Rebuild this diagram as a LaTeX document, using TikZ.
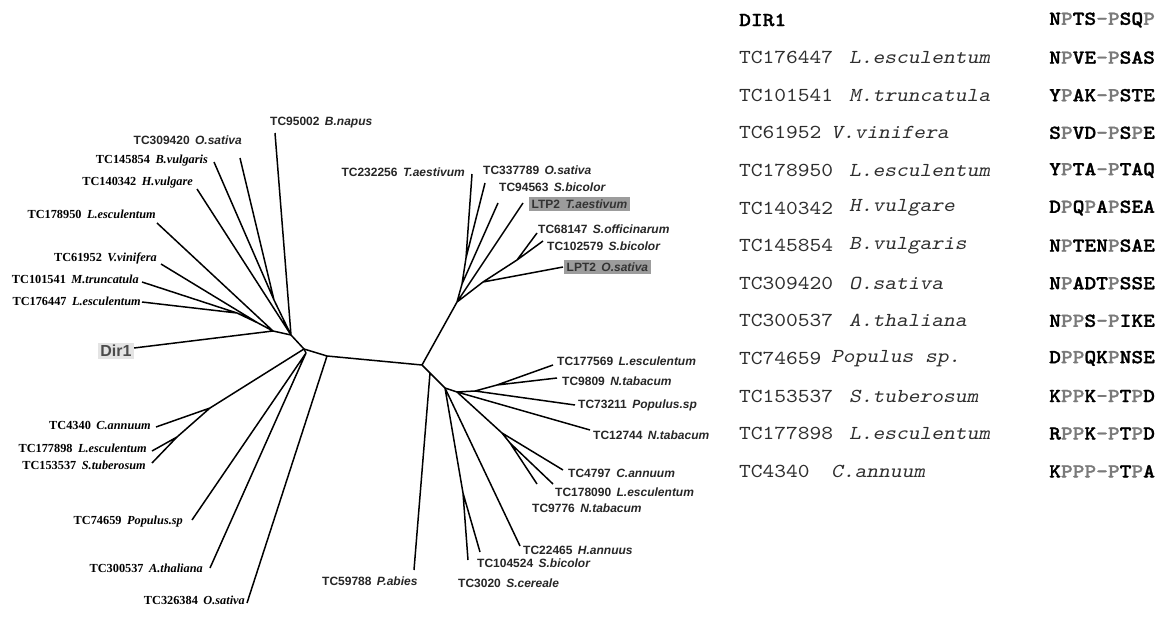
\documentclass[tikz,border=0pt]{standalone}
\usepackage{fontspec}
\setmainfont{Liberation Serif}
\setsansfont{Liberation Sans}
\newfontfamily\seqfont[FakeStretch=1.13,BoldFont=lmmonolt10-bold.otf,BoldFeatures={FakeBold=1.3},
  ItalicFont=lmmono10-regular.otf,ItalicFeatures={FakeSlant=0.21}]{lmmono10-regular.otf}
\usetikzlibrary{positioning}
\definecolor{hlgrey}{HTML}{9C9C9C}
\definecolor{dirgrey}{HTML}{E4E4E4}
\definecolor{resgrey}{HTML}{7A7A7A}
\definecolor{idgrey}{HTML}{2E2E2E}
\tikzset{branch/.style={line width=1.5pt,line join=round},
 serlab/.style={font=\fontsize{12.3}{14}\selectfont\bfseries,inner sep=1pt},
 sanlab/.style={font=\sffamily\bfseries\fontsize{12}{13}\selectfont,inner sep=1pt,text=black!85},
 hilab/.style={sanlab,fill=hlgrey,inner sep=2.5pt,text=black!80},
 dirlab/.style={font=\sffamily\bfseries\fontsize{16}{17}\selectfont,fill=dirgrey,text=black!70,inner sep=2.5pt},
 idcell/.style={font=\seqfont\fontsize{19.8}{22}\selectfont,text=idgrey,anchor=west,inner sep=0pt},
 spcell/.style={idcell,font=\seqfont\itshape\fontsize{19.8}{22}\selectfont},
 seqcell/.style={idcell,font=\seqfont\bfseries\fontsize{19.8}{22}\selectfont,text=black}}
\newcommand{\taxon}[2]{#1\hspace{.45em}\textit{#2}}
\newcommand{\gr}[1]{\textcolor{resgrey}{#1}}

\begin{document}
\begin{tikzpicture}[x=1pt,y=-1pt]
\useasboundingbox (0,0) rectangle (1162,618);
% leaf ends
\coordinate (l95002) at (275,133);\coordinate (l309420) at (240,158);\coordinate (l145854) at (214,162);
\coordinate (l140342) at (197,189);\coordinate (l178950) at (157,223);\coordinate (l61952) at (161,264);
\coordinate (l101541) at (142,282);\coordinate (l176447) at (142,302);\coordinate (ldir) at (134,348);
\coordinate (l4340) at (156,427);\coordinate (l177898) at (152,451);\coordinate (l153537) at (152,463);
\coordinate (l74659) at (192,520);\coordinate (l300537) at (210,568);\coordinate (l326384) at (247,603);
\coordinate (l59788) at (414,570);\coordinate (l3020) at (468,560);\coordinate (l104524) at (480,552);
\coordinate (l22465) at (520,546);\coordinate (l9776) at (537,484);\coordinate (l178090) at (553,484);
\coordinate (l4797) at (563,470);\coordinate (l12744) at (590,430);\coordinate (l73211) at (575,405);
\coordinate (l9809) at (557,378);\coordinate (l177569) at (553,365);\coordinate (lLPT2) at (563,267);
\coordinate (l102579) at (543,241);\coordinate (l68147) at (537,233);\coordinate (lLTP2) at (523,203);
\coordinate (l94563) at (498,203);\coordinate (l337789) at (485,183);\coordinate (l232256) at (472,174);
% inner nodes
\coordinate (nL) at (291,335);\coordinate (nC) at (304,349);\coordinate (c2) at (327,356);
\coordinate (nR) at (422,365);\coordinate (pab) at (430,373);\coordinate (r1) at (445,388);
\coordinate (r2) at (457,392);\coordinate (r3) at (475,391);\coordinate (r4) at (497,385);
\coordinate (s1) at (463,493);\coordinate (s2) at (502,433);\coordinate (s3) at (510,443);
\coordinate (u1) at (457,302);\coordinate (u2) at (462,284);\coordinate (u3) at (466,258);
\coordinate (u4) at (483,282);\coordinate (u5) at (517,260);
\coordinate (t1) at (210,408);\coordinate (t2) at (177,437);\coordinate (t3) at (306,353);
\coordinate (a2) at (274,300);\coordinate (b1) at (273,331);\coordinate (b2) at (258,323);\coordinate (b3) at (237,313);
% branches
\draw[branch] (l95002) -- (nL) (l140342) -- (nL) (l309420) -- (a2) (l145854) -- (a2) -- (nL);
\draw[branch] (ldir) -- (b1) -- (nL) (l178950) -- (b1) (l61952) -- (b2) (l101541) -- (b3) (l176447) -- (b3) -- (b2) -- (b1);
\draw[branch] (nL) -- (nC) -- (c2) -- (nR) (c2) -- (l326384);
\draw[branch] (nC) -- (t1) -- (l4340) (t1) -- (t2) -- (l177898) (t2) -- (l153537);
\draw[branch] (nC) -- (t3) -- (l74659) (t3) -- (l300537);
\draw[branch] (nR) -- (u1) -- (u2) -- (u3) -- (l232256) (u3) -- (l337789) (u2) -- (l94563) (u1) -- (lLTP2)
  (u1) -- (u4) -- (lLPT2) (u4) -- (u5) -- (l68147) (u5) -- (l102579);
\draw[branch] (nR) -- (pab) -- (r1) -- (r2) -- (r3) -- (r4) -- (l177569) (r4) -- (l9809) (r3) -- (l73211)
  (r2) -- (l12744) (pab) -- (l59788);
\draw[branch] (r1) -- (s1) -- (l3020) (s1) -- (l104524) (r1) -- (l22465) (r2) -- (s2) -- (l4797)
  (s2) -- (s3) -- (l178090) (s3) -- (l9776);
% labels, left side
\node[dirlab] (tdir) at (116,351) {Dir1};
\node[sanlab,anchor=east] (t309420) at (243,140) {\taxon{TC309420}{O.sativa}};
\node[serlab,anchor=east] (t145854) at (209,161) {\taxon{TC145854}{B.vulgaris}};
\node[serlab,anchor=east] (t140342) at (194,183) {\taxon{TC140342}{H.vulgare}};
\node[serlab,anchor=east] (t178950) at (157,214) {\taxon{TC178950}{L.esculentum}};
\node[serlab,anchor=east] (t61952) at (158,258) {\taxon{TC61952}{V.vinifera}};
\node[serlab,anchor=east] (t101541) at (140,279) {\taxon{TC101541}{M.truncatula}};
\node[serlab,anchor=east] (t176447) at (142,301) {\taxon{TC176447}{L.esculentum}};
\node[serlab,anchor=east] (t4340) at (152,425) {\taxon{TC4340}{C.annuum}};
\node[serlab,anchor=east] (t177898) at (148,448) {\taxon{TC177898}{L.esculentum}};
\node[serlab,anchor=east] (t153537) at (147,465) {\taxon{TC153537}{S.tuberosum}};
\node[serlab,anchor=east] (t74659) at (184,522) {\taxon{TC74659}{Populus.sp}};
\node[serlab,anchor=east] (t300537) at (204,568) {\taxon{TC300537}{A.thaliana}};
\node[serlab,anchor=east] (t326384) at (246,600) {\taxon{TC326384}{O.sativa}};
% labels, right side
\node[sanlab,anchor=west] (t95002) at (269,123) {\taxon{TC95002}{B.napus}};
\node[sanlab,anchor=east] (t232256) at (466,172) {\taxon{TC232256}{T.aestivum}};
\node[sanlab,anchor=west] (t337789) at (482,170) {\taxon{TC337789}{O.sativa}};
\node[sanlab,anchor=west] (t94563) at (498,187) {\taxon{TC94563}{S.bicolor}};
\node[hilab,anchor=west] (tLTP2) at (529,204) {\taxon{LTP2}{T.aestivum}};
\node[sanlab,anchor=west] (t68147) at (537,229) {\taxon{TC68147}{S.officinarum}};
\node[sanlab,anchor=west] (t102579) at (546,246) {\taxon{TC102579}{S.bicolor}};
\node[hilab,anchor=west] (tLPT2) at (564,267) {\taxon{LPT2}{O.sativa}};
\node[sanlab,anchor=west] (t177569) at (556,361) {\taxon{TC177569}{L.esculentum}};
\node[sanlab,anchor=west] (t9809) at (561,381) {\taxon{TC9809}{N.tabacum}};
\node[sanlab,anchor=west] (t73211) at (577,405) {\taxon{TC73211}{Populus.sp}};
\node[sanlab,anchor=west] (t12744) at (592,435) {\taxon{TC12744}{N.tabacum}};
\node[sanlab,anchor=west] (t4797) at (567,473) {\taxon{TC4797}{C.annuum}};
\node[sanlab,anchor=west] (t178090) at (554,492) {\taxon{TC178090}{L.esculentum}};
\node[sanlab,anchor=west] (t9776) at (531,508) {\taxon{TC9776}{N.tabacum}};
\node[sanlab,anchor=west] (t22465) at (522,550) {\taxon{TC22465}{H.annuus}};
\node[sanlab,anchor=west] (t104524) at (476,563) {\taxon{TC104524}{S.bicolor}};
\node[sanlab,anchor=west] (t3020) at (457,583) {\taxon{TC3020}{S.cereale}};
\node[sanlab,anchor=west] (t59788) at (321,581) {\taxon{TC59788}{P.abies}};
% alignment table
\node[seqcell] (id0) at (739,20) {DIR1};
\node[seqcell] (seq0) at (1049,20) {N\gr{P}TS\gr{-P}SQ\gr{P}};
\foreach \i/\id/\sp/\sx/\seq in {1/TC176447/L.esculentum/849/{N\gr{P}VE\gr{-P}SAS},
  2/TC101541/M.truncatula/849/{Y\gr{P}AK\gr{-P}STE},
  3/TC61952/V.vinifera/831/{S\gr{P}VD\gr{-P}S\gr{P}E},
  4/TC178950/L.esculentum/849/{Y\gr{P}TA\gr{-P}TAQ},
  5/TC140342/H.vulgare/849/{D\gr{P}Q\gr{P}A\gr{P}SEA},
  6/TC145854/B.vulgaris/849/{N\gr{P}TEN\gr{P}SAE},
  7/TC309420/O.sativa/849/{N\gr{P}ADT\gr{P}SSE},
  8/TC300537/A.thaliana/849/{N\gr{PP}S\gr{-P}IKE},
  9/TC74659/{Populus sp.}/831/{D\gr{PP}QK\gr{P}NSE},
  10/TC153537/S.tuberosum/849/{K\gr{PP}K\gr{-P}T\gr{P}D},
  11/TC177898/L.esculentum/849/{R\gr{PP}K\gr{-P}T\gr{P}D},
  12/TC4340/C.annuum/831/{K\gr{PPP-P}T\gr{P}A}}{
  \node[idcell] (id\i) at (739,{20+37.6*\i}) {\id};
  \node[spcell] (sp\i) at (\sx,{20+37.6*\i}) {\sp};
  \node[seqcell] (seq\i) at (1049,{20+37.6*\i}) {\seq};
}
\end{tikzpicture}
\end{document}
